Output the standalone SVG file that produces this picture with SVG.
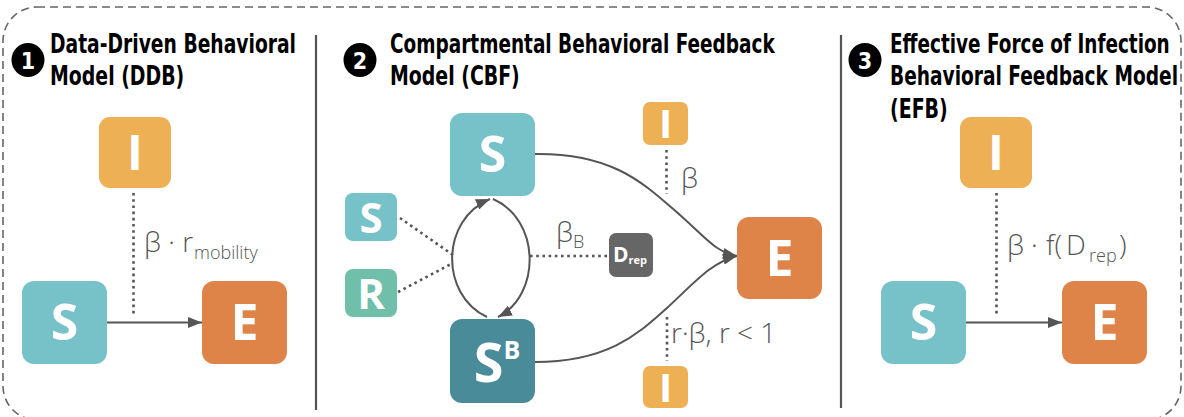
<svg xmlns="http://www.w3.org/2000/svg" width="1184" height="417" viewBox="0 0 1184 417">
<style>
.title{font-family:"Liberation Sans Narrow","DejaVu Sans Condensed","Roboto",sans-serif;font-weight:bold;font-size:26px;fill:#000}
.num{font-family:"DejaVu Sans Condensed","Open Sans",sans-serif;font-weight:bold;font-size:23px;fill:#fff;text-anchor:middle}
.nl{font-family:"Open Sans","DejaVu Sans",sans-serif;font-weight:bold;fill:#fff;text-anchor:middle}
.lab{font-family:"Open Sans","DejaVu Sans",sans-serif;font-weight:300;font-size:28px;fill:#555}
.sub{font-size:18px}
.conn{fill:none;stroke:#555;stroke-width:2}
.dot{fill:none;stroke:#555;stroke-width:2.6;stroke-dasharray:2.6 3.6}
.div{stroke:#555;stroke-width:2.2}
.teal{fill:#76C2C8}.orange{fill:#DE8449}.yellow{fill:#EDB054}.dteal{fill:#4A8B99}.green{fill:#70BFAB}.gray{fill:#666}
</style>
<defs>
<marker id="ah" markerWidth="14" markerHeight="11" refX="14" refY="5.5" orient="auto" markerUnits="userSpaceOnUse"><path d="M0,0 L14,5.5 L0,11 z" fill="#555"/></marker>
</defs>
<rect x="3" y="7" width="1178" height="413" rx="34" ry="34" fill="none" stroke="#666" stroke-width="1.6" stroke-dasharray="8 5"/>
<line class="div" x1="316" y1="35" x2="316" y2="410"/>
<line class="div" x1="841" y1="35" x2="841" y2="408"/>

<g id="title1">
<ellipse cx="28" cy="60" rx="16.5" ry="17" fill="#000"/><text class="num" x="28" y="68.5">1</text>
<text class="title" transform="translate(50,53) scale(0.75,1)" x="0" y="0" textLength="328" lengthAdjust="spacingAndGlyphs">Data-Driven Behavioral</text>
<text class="title" transform="translate(50,85) scale(0.75,1)" x="0" y="0" textLength="179" lengthAdjust="spacingAndGlyphs">Model (DDB)</text>
</g>
<g id="title2">
<ellipse cx="360" cy="60" rx="16.5" ry="17" fill="#000"/><text class="num" x="360" y="68.5">2</text>
<text class="title" transform="translate(390,53) scale(0.75,1)" x="0" y="0" textLength="513" lengthAdjust="spacingAndGlyphs">Compartmental Behavioral Feedback</text>
<text class="title" transform="translate(390,85) scale(0.75,1)" x="0" y="0" textLength="173" lengthAdjust="spacingAndGlyphs">Model (CBF)</text>
</g>
<g id="title3">
<ellipse cx="865" cy="60" rx="16.5" ry="17" fill="#000"/><text class="num" x="865" y="68.5">3</text>
<text class="title" transform="translate(890,53) scale(0.75,1)" x="0" y="0" textLength="373" lengthAdjust="spacingAndGlyphs">Effective Force of Infection</text>
<text class="title" transform="translate(890,85) scale(0.75,1)" x="0" y="0" textLength="384" lengthAdjust="spacingAndGlyphs">Behavioral Feedback Model</text>
<text class="title" transform="translate(890,118) scale(0.75,1)" x="0" y="0" textLength="77" lengthAdjust="spacingAndGlyphs">(EFB)</text>
</g>

<g id="connectors">
<line class="dot" x1="133.5" y1="193" x2="133.5" y2="316"/>
<line class="conn" x1="107" y1="322.5" x2="202" y2="322.5" marker-end="url(#ah)"/>
<line class="dot" x1="666.5" y1="150" x2="666.5" y2="194"/>
<line class="dot" x1="667" y1="317" x2="667" y2="361"/>
<path class="conn" d="M535,154 C615,153 645,185 680,215 C705,237 715,252 737,256" marker-end="url(#ah)"/>
<path class="conn" d="M535,362 C610,362 640,332 667,308 C695,282 712,262 737,256" marker-end="url(#ah)"/>
<path class="conn" d="M487,317 C440,295 440,220 490,199" marker-end="url(#ah)"/>
<path class="conn" d="M493,199 C541,220 541,295 498,317" marker-end="url(#ah)"/>
<line class="dot" x1="400" y1="218" x2="453" y2="255"/>
<line class="dot" x1="398" y1="292" x2="453" y2="263"/>
<line class="dot" x1="530" y1="256" x2="608" y2="256"/>
<line class="dot" x1="996.5" y1="193" x2="996.5" y2="316"/>
<line class="conn" x1="966" y1="322.5" x2="1062" y2="322.5" marker-end="url(#ah)"/>
</g>

<g id="labels">
<text class="lab" x="144" y="252">β · r<tspan class="sub" x="194" dy="7" font-size="19">mobility</tspan></text>
<text class="lab" x="681" y="188">β</text>
<text class="lab" x="556" y="242">β<tspan class="sub" dy="6">B</tspan></text>
<text class="lab" x="671" y="343">r·β, r &lt; 1</text>
<text class="lab" x="1007" y="255">β<tspan x="1031">·</tspan><tspan x="1046">f(</tspan><tspan x="1066">D</tspan><tspan class="sub" x="1089" dy="7" font-size="19">rep</tspan><tspan x="1119" dy="-7">)</tspan></text>
</g>

<g id="p1-I"><rect class="yellow" x="99" y="117" width="72" height="71" rx="11"/><text class="nl" x="135" y="170" font-size="48">I</text></g>
<g id="p1-S"><rect class="teal" x="22" y="281" width="85" height="83" rx="12"/><text class="nl" x="64.5" y="340" font-size="50">S</text></g>
<g id="p1-E"><rect class="orange" x="202" y="281" width="85" height="83" rx="12"/><text class="nl" x="244.5" y="340" font-size="50">E</text></g>

<g id="p2-S"><rect class="teal" x="450" y="113" width="85" height="83" rx="12"/><text class="nl" x="492.5" y="172" font-size="50">S</text></g>
<g id="p2-SB"><rect class="dteal" x="450" y="319" width="85" height="84" rx="12"/><text class="nl" x="497" y="382" font-size="54">S<tspan font-size="25" dy="-23">B</tspan></text></g>
<g id="p2-Itop"><rect class="yellow" x="643" y="102" width="45" height="43" rx="7"/><text class="nl" x="665.5" y="138" font-size="40">I</text></g>
<g id="p2-Ibot"><rect class="yellow" x="643" y="366" width="45" height="42" rx="7"/><text class="nl" x="665.5" y="402" font-size="40">I</text></g>
<g id="p2-Ssmall"><rect class="teal" x="345" y="193" width="52" height="48" rx="8"/><text class="nl" x="371" y="233" font-size="42">S</text></g>
<g id="p2-R"><rect class="green" x="345" y="269" width="52" height="48" rx="8"/><text class="nl" x="371" y="309" font-size="42">R</text></g>
<g id="p2-D"><rect class="gray" x="609" y="233" width="44" height="44" rx="7"/><text class="nl" x="630" y="262" font-size="21">D<tspan font-size="11" dy="2">rep</tspan></text></g>
<g id="p2-E"><rect class="orange" x="737" y="217" width="85" height="82" rx="12"/><text class="nl" x="779.5" y="276" font-size="50">E</text></g>

<g id="p3-I"><rect class="yellow" x="960" y="117" width="72" height="71" rx="11"/><text class="nl" x="996" y="170" font-size="48">I</text></g>
<g id="p3-S"><rect class="teal" x="881" y="281" width="85" height="83" rx="12"/><text class="nl" x="923.5" y="340" font-size="50">S</text></g>
<g id="p3-E"><rect class="orange" x="1062" y="281" width="85" height="83" rx="12"/><text class="nl" x="1104.5" y="340" font-size="50">E</text></g>
</svg>
